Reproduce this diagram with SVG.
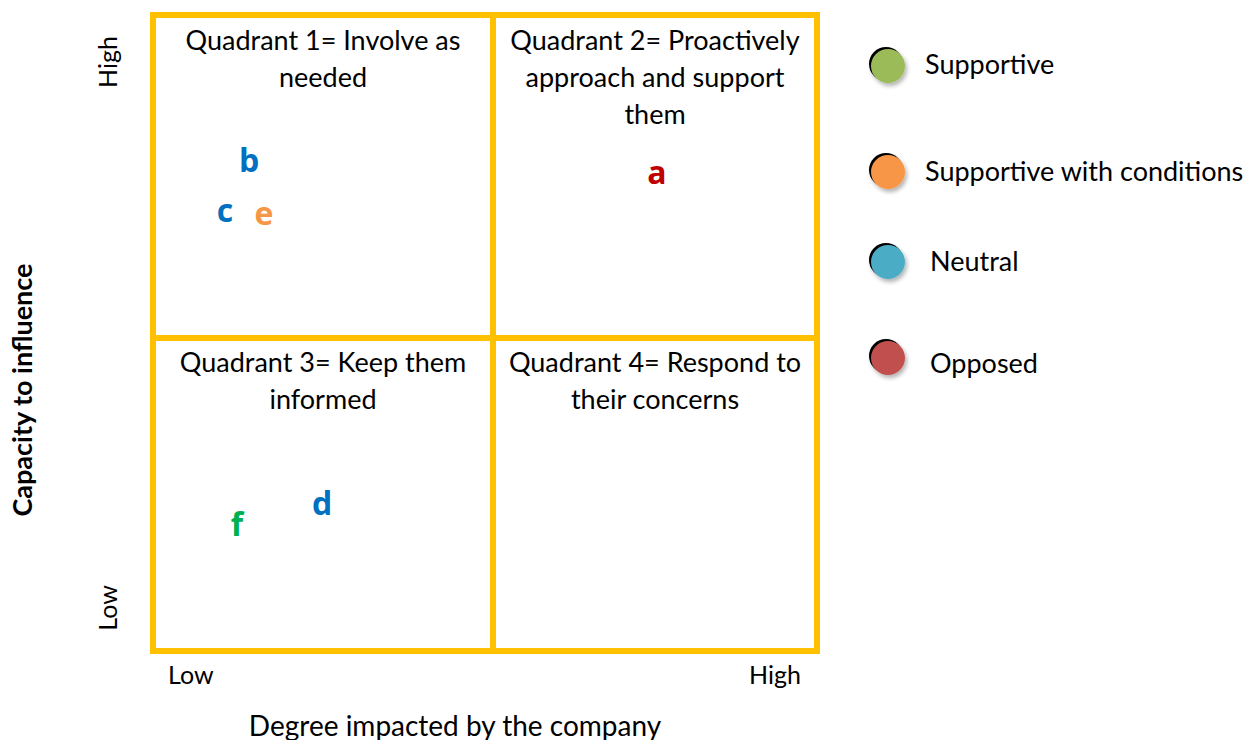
<svg xmlns="http://www.w3.org/2000/svg" width="1248" height="740" viewBox="0 0 1248 740">
<defs>
<style>
.q{font-family:Lato,"Open Sans","Liberation Sans",sans-serif;font-size:27px;fill:#000;text-anchor:middle}
.t{font-family:Lato,"Open Sans","Liberation Sans",sans-serif;font-size:27px;fill:#000}
.l{font-family:"Open Sans",Lato,"Liberation Sans",sans-serif;font-size:32px;font-weight:bold;text-anchor:middle}
.g{fill:none;stroke:#FFC000;stroke-width:6}
</style>
<filter id="sh" x="-50%" y="-50%" width="200%" height="200%">
<feGaussianBlur in="SourceAlpha" stdDeviation="2"/>
<feOffset dx="2" dy="3"/>
<feComponentTransfer><feFuncA type="linear" slope="0.3"/></feComponentTransfer>
<feMerge><feMergeNode/><feMergeNode in="SourceGraphic"/></feMerge>
</filter>
</defs>
<g id="grid">
<rect class="g" x="153" y="15" width="664" height="636"/>
<line class="g" x1="493" y1="15" x2="493" y2="651"/>
<line class="g" x1="153" y1="338" x2="817" y2="338"/>
</g>
<g id="q1"><text class="q" x="323" y="50">Quadrant 1= Involve as</text><text class="q" x="323" y="87">needed</text></g>
<g id="q2"><text class="q" x="655" y="50">Quadrant 2= Proactively</text><text class="q" x="655" y="87">approach and support</text><text class="q" x="655" y="124">them</text></g>
<g id="q3"><text class="q" x="323" y="372">Quadrant 3= Keep them</text><text class="q" x="323" y="409">informed</text></g>
<g id="q4"><text class="q" x="655" y="372">Quadrant 4= Respond to</text><text class="q" x="655" y="409">their concerns</text></g>
<g id="points">
<text class="l" x="249" y="172" fill="#0070C0">b</text>
<text class="l" x="225" y="222" fill="#0070C0">c</text>
<text class="l" x="264" y="225" fill="#F79646">e</text>
<text class="l" x="657" y="184" fill="#C00000">a</text>
<text class="l" x="237" y="536" fill="#00B050">f</text>
<text class="l" x="322" y="515" fill="#0070C0">d</text>
</g>
<g id="legend">
<g filter="url(#sh)"><circle cx="886" cy="64" r="17" fill="#000"/><circle cx="888" cy="66" r="17" fill="#9BBB59"/></g>
<text class="t" x="925" y="74">Supportive</text>
<g filter="url(#sh)"><circle cx="886" cy="170" r="17" fill="#000"/><circle cx="888" cy="172" r="17" fill="#F79646"/></g>
<text class="t" x="925" y="181">Supportive with conditions</text>
<g filter="url(#sh)"><circle cx="886" cy="260" r="17" fill="#000"/><circle cx="888" cy="262" r="17" fill="#4BACC6"/></g>
<text class="t" x="930" y="271">Neutral</text>
<g filter="url(#sh)"><circle cx="886" cy="356" r="17" fill="#000"/><circle cx="888" cy="358" r="17" fill="#C0504D"/></g>
<text class="t" x="930" y="373">Opposed</text>
</g>
<g id="axes">
<text class="q" transform="translate(117,62) rotate(-90)" style="font-size:25px">High</text>
<text class="q" transform="translate(117,608) rotate(-90)" style="font-size:25px">Low</text>
<text class="q" transform="translate(32,390) rotate(-90)" style="font-weight:bold;font-size:27px">Capacity to influence</text>
<text class="t" x="168" y="684" style="font-size:25px">Low</text>
<text class="t" x="749" y="684" style="font-size:25px">High</text>
<text class="q" x="455" y="736" style="font-size:28px">Degree impacted by the company</text>
</g>
</svg>
